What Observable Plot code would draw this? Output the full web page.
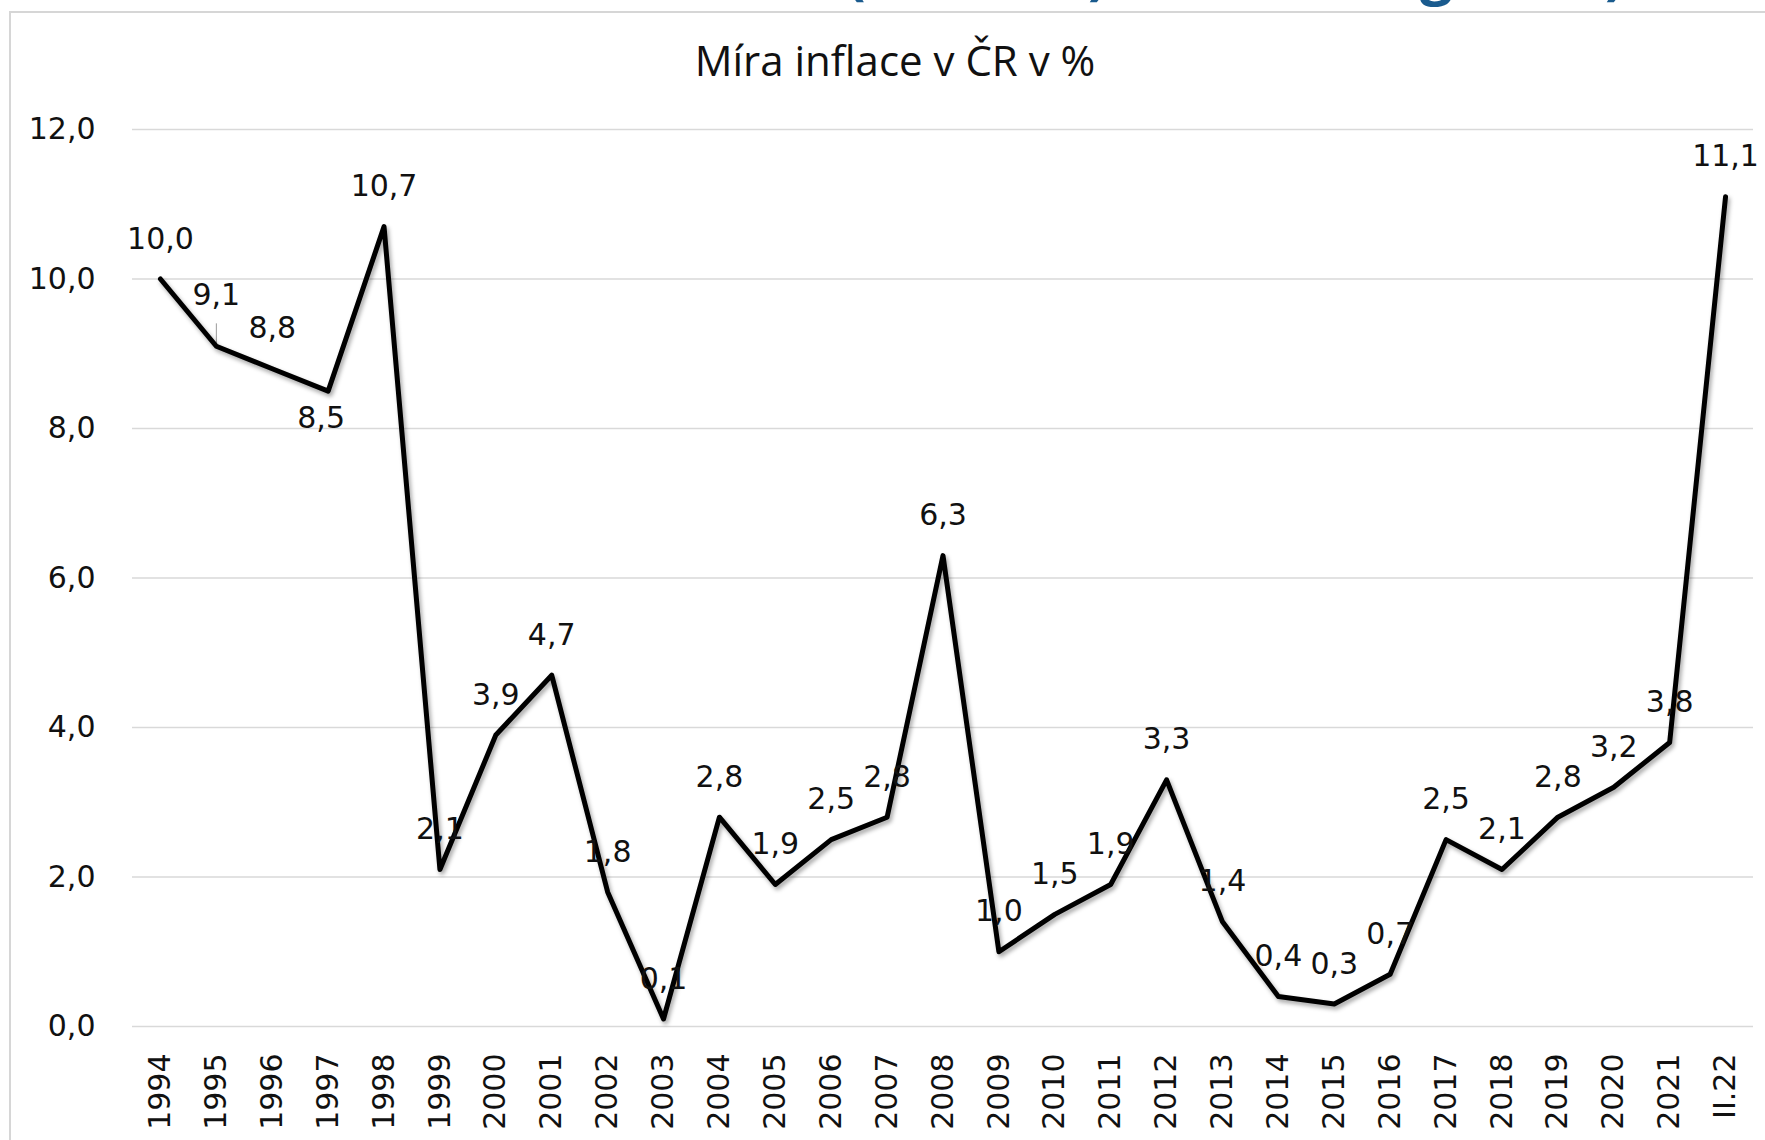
<!DOCTYPE html>
<html>
<head>
<meta charset="utf-8">
<script src="https://cdn.jsdelivr.net/npm/d3@7"></script>
<script src="https://cdn.jsdelivr.net/npm/@observablehq/plot@0.6"></script>
<style>
  html, body { margin: 0; padding: 0; background: #fff; overflow: hidden; }
  #page { position: relative; width: 1765px; height: 1140px; }
  #frame { position: absolute; left: 9px; top: 11px; right: 0; bottom: 0;
           border-left: 2px solid #d6d6d6; border-top: 2px solid #d6d6d6; }
  #frag { position: absolute; left: 0; top: 0; width: 1765px; height: 8px; overflow: hidden; }
  #frag span { position: absolute; top: -58px; font-family: "Open Sans", sans-serif; font-weight: 700;
               font-size: 58px; line-height: 58px; color: #1a5b8e; }
  #title { position: absolute; left: 895px; top: 39px; transform: translateX(-50%);
           font-family: "Open Sans", sans-serif; font-size: 42px; line-height: 42px; color: #111; white-space: nowrap; }
  #chart { position: absolute; left: 0; top: 100px; }
</style>
</head>
<body>
<div id="page">
  <div id="frag"><span style="left:846px">(</span><span style="left:1088px">)</span><span style="left:1420px">g</span><span style="left:1605px">)</span></div>
  <div id="frame"></div>
  <div id="title">Míra inflace v ČR v %</div>
  <div id="chart"></div>
</div>
<script>
const years = ["1994","1995","1996","1997","1998","1999","2000","2001","2002","2003","2004","2005","2006","2007","2008","2009","2010","2011","2012","2013","2014","2015","2016","2017","2018","2019","2020","2021","II.22"];
const inflation = [10.0, 9.1, 8.8, 8.5, 10.7, 2.1, 3.9, 4.7, 1.8, 0.1, 2.8, 1.9, 2.5, 2.8, 6.3, 1.0, 1.5, 1.9, 3.3, 1.4, 0.4, 0.3, 0.7, 2.5, 2.1, 2.8, 3.2, 3.8, 11.1];
const yTicks = [0, 2, 4, 6, 8, 10, 12];

const data = years.map((year, i) => ({year, value: inflation[i]}));
const fmt = v => v.toFixed(1).replace(".", ",");
const leaderLabel = "1995";
const belowLabel = "1997";

const chart = Plot.plot({
  width: 1765,
  height: 1040,
  marginLeft: 132,
  marginRight: 12,
  marginTop: 29,
  marginBottom: 114,
  style: {fontFamily: "'DejaVu Sans', sans-serif", fontSize: "30px", background: "transparent", color: "#111", overflow: "visible"},
  x: {type: "point", domain: years, padding: 0.5, round: false, label: null},
  y: {domain: [0, 12], label: null},
  marks: [
    Plot.gridY(yTicks, {stroke: "#d9d9d9", strokeOpacity: 1, strokeWidth: 1.6}),
    Plot.axisY(yTicks, {tickSize: 0, tickPadding: 37, tickFormat: fmt, label: null, fontSize: 30}),
    Plot.axisX({tickRotate: -90, tickSize: 0, tickPadding: 27, label: null, fontSize: 30}),
    Plot.ruleX(data.filter(d => d.year === leaderLabel), {x: "year", y1: "value", y2: d => d.value + 0.3, stroke: "#9a9a9a", strokeWidth: 1}),
    Plot.line(data, {x: "year", y: "value", stroke: "#000", strokeWidth: 5, strokeLinejoin: "round"}),
    Plot.text(data.filter(d => d.year !== leaderLabel && d.year !== belowLabel), {x: "year", y: "value", text: d => fmt(d.value), dy: -40, fontSize: 30, fill: "#111"}),
    Plot.text(data.filter(d => d.year === leaderLabel), {x: "year", y: "value", text: d => fmt(d.value), dy: -51, fontSize: 30, fill: "#111"}),
    Plot.text(data.filter(d => d.year === belowLabel), {x: "year", y: "value", text: d => fmt(d.value), dx: -7, dy: 27, fontSize: 30, fill: "#111"})
  ]
});
const linePath = chart.querySelector('g[aria-label="line"] path');
if (linePath) linePath.style.filter = "drop-shadow(2px 3px 2px rgba(0,0,0,0.35))";
document.getElementById("chart").appendChild(chart);
</script>
</body>
</html>
